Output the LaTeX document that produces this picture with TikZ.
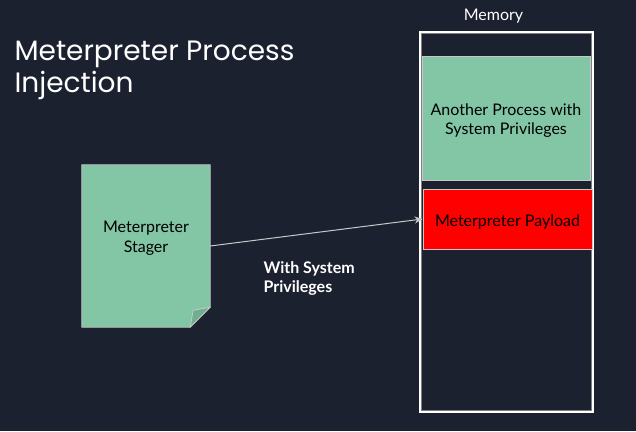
\documentclass[tikz,border=0pt]{standalone}
\usepackage{fontspec}
\setmainfont{Lato}
\newfontfamily\titlefont{Poppins}
\usetikzlibrary{positioning, arrows.meta, calc}
\definecolor{bgdark}{HTML}{1C2130}
\definecolor{procgreen}{HTML}{82C6A5}
\definecolor{foldgreen}{HTML}{6FAE8F}
\definecolor{edgegray}{HTML}{C8C8C8}
\tikzset{
    block/.style={draw=edgegray, line width=0.8pt, inner sep=0pt},
    blocktext/.style={align=center, font=\fontsize{16}{19.5}\selectfont, text=black},
    caption/.style={text=white, align=left, font=\bfseries\fontsize{16}{19.5}\selectfont},
}
\begin{document}
\begin{tikzpicture}[x=1pt, y=-1pt]
    \fill[bgdark] (0,0) rectangle (636,431);
    \useasboundingbox (0,0) rectangle (636,431);

    \node[text=white, align=left, anchor=north west,
        font=\titlefont\fontsize{28}{32}\selectfont] (title) at (11,37)
        {Meterpreter Process\\Injection};

    % memory column
    \node[draw=white, line width=3pt, minimum width=172pt, minimum height=379pt,
        inner sep=0pt] (memory) at (506.5,222) {};
    \draw[gray, line width=0.6pt] ($(memory.north west)+(2.5,2.5)$) rectangle ($(memory.south east)+(-2.5,-2.5)$);
    \node[text=white, font=\fontsize{16}{19}\selectfont, above=4pt of memory, xshift=-13pt] (memlabel) {Memory};
    \node[block, fill=procgreen, minimum width=168pt, minimum height=124pt] (process) at (506,118) {};
    \node[blocktext] (processtext) at ($(process.center)+(0,2.5)$) {Another Process with\\System Privileges};
    \node[block, fill=red, minimum width=169pt, minimum height=60pt] (payload) at (507.5,219) {};
    \node[blocktext] (payloadtext) at ($(payload.center)+(0,2.5)$) {Meterpreter Payload};

    % stager document
    \node[minimum width=128pt, minimum height=162pt, inner sep=0pt] (stager) at (146,246) {};
    \draw[edgegray, fill=procgreen, line width=0.8pt]
        (stager.north west) -- (stager.north east) -- ($(stager.south east)+(0,-20)$)
        -- ($(stager.south east)+(-20,0)$) -- (stager.south west) -- cycle;
    \draw[edgegray, fill=foldgreen, line width=0.8pt]
        ($(stager.south east)+(-20,0)$) -- ($(stager.south east)+(-17,-17)$)
        -- ($(stager.south east)+(0,-20)$) -- cycle;
    \node[blocktext] (stagertext) at ($(stager.center)+(0,-8)$) {Meterpreter\\Stager};

    \draw[-{Stealth[length=8pt, width=7pt]}, edgegray, line width=1pt] (stager.east) -- (payload.west);
    \node[caption, anchor=north west] (via) at (260,258) {With System\\Privileges};
\end{tikzpicture}
\end{document}
